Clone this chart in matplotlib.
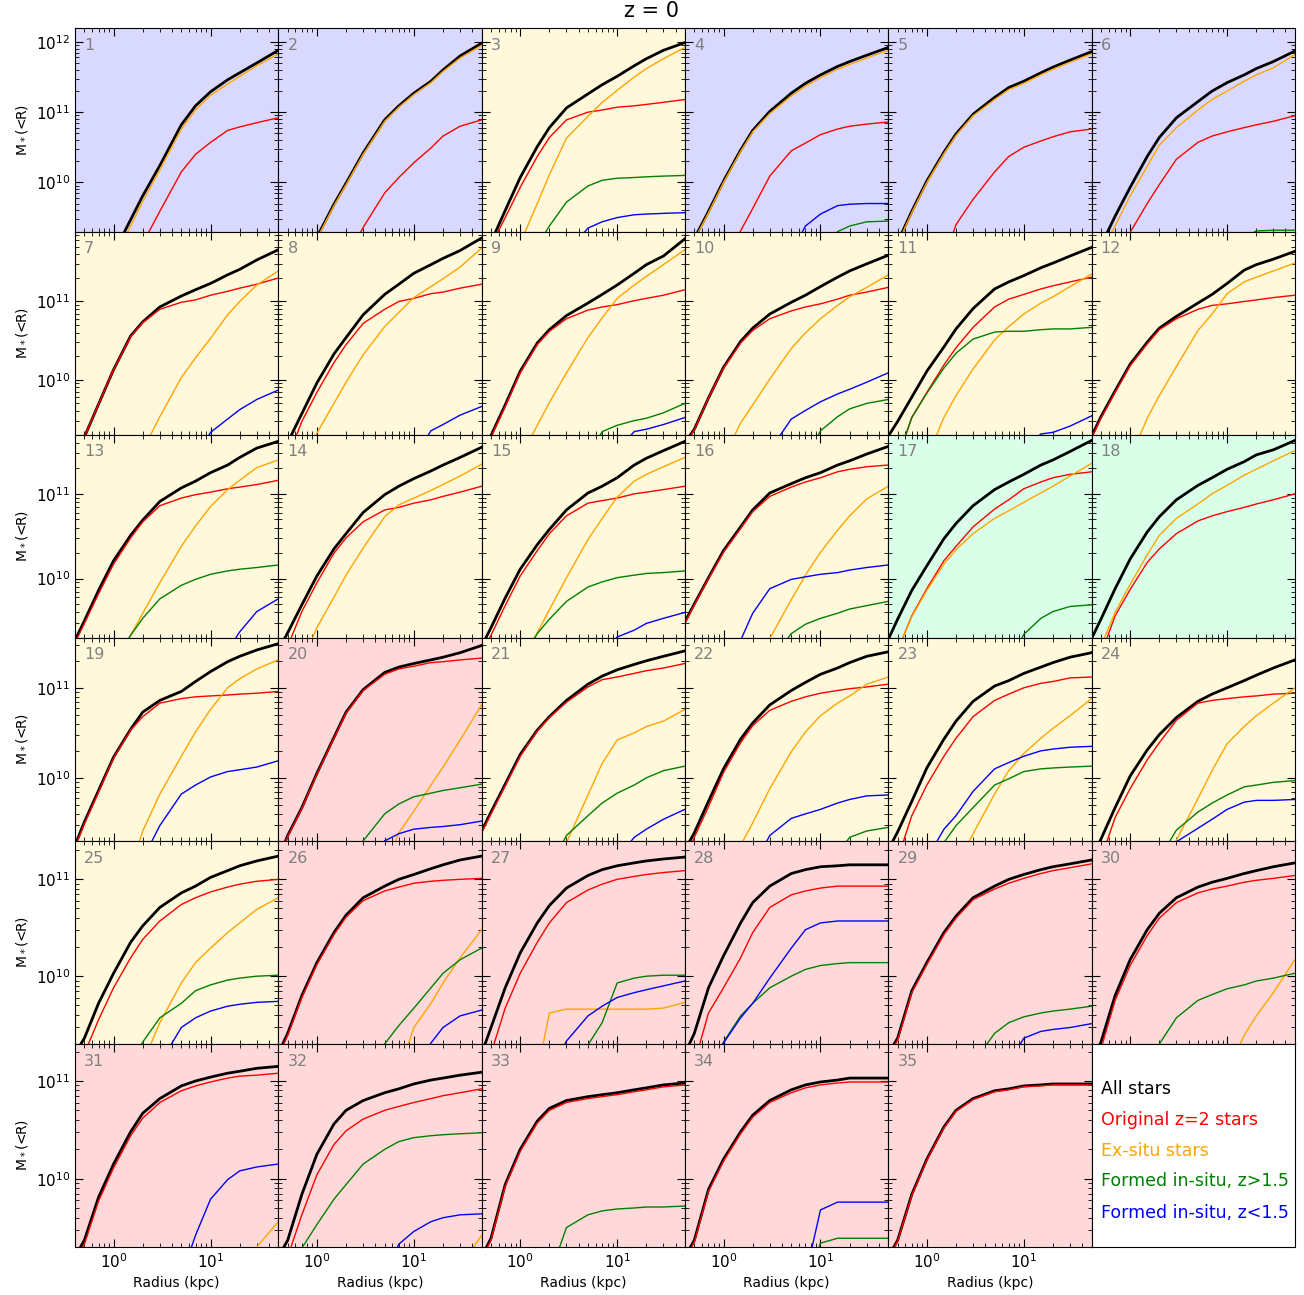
import numpy as np
import matplotlib.pyplot as plt

# cumulative stellar mass profiles, 35 galaxies at z = 0
# values are log10 M*(<R) on the RADIUS grid, None = off the bottom of the plot
N = None
RADIUS = [0.4, 0.5, 0.7, 1, 1.5, 2, 3, 5, 7, 10, 15, 20, 30, 50]

ALL_STARS = [
    [N, N, N, 8.99, 9.47, 9.81, 10.24, 10.82, 11.09, 11.29, 11.46, 11.56, 11.70, 11.88],
    [N, N, N, 9.22, 9.69, 9.99, 10.42, 10.89, 11.09, 11.27, 11.44, 11.60, 11.80, 11.98],
    [N, 9.15, 9.60, 10.07, 10.51, 10.78, 11.06, 11.26, 11.39, 11.51, 11.66, 11.76, 11.88, 11.99],
    [N, 9.20, 9.59, 10.02, 10.46, 10.74, 11.01, 11.27, 11.41, 11.53, 11.65, 11.72, 11.81, 11.92],
    [N, 9.15, 9.59, 10.02, 10.43, 10.69, 10.97, 11.21, 11.35, 11.44, 11.56, 11.64, 11.74, 11.86],
    [N, 9.10, 9.52, 9.93, 10.37, 10.64, 10.92, 11.15, 11.30, 11.42, 11.53, 11.62, 11.72, 11.87],
    [N, 9.27, 9.69, 10.13, 10.56, 10.74, 10.93, 11.07, 11.15, 11.23, 11.34, 11.41, 11.53, 11.66],
    [N, 9.20, 9.57, 9.96, 10.33, 10.54, 10.83, 11.09, 11.22, 11.36, 11.47, 11.55, 11.65, 11.81],
    [N, 9.29, 9.68, 10.11, 10.47, 10.64, 10.82, 10.98, 11.09, 11.21, 11.36, 11.47, 11.58, 11.80],
    [9.20, 9.37, 9.77, 10.16, 10.49, 10.66, 10.84, 10.99, 11.08, 11.19, 11.31, 11.39, 11.48, 11.59],
    [9.28, 9.47, 9.78, 10.11, 10.42, 10.65, 10.91, 11.16, 11.25, 11.33, 11.43, 11.49, 11.58, 11.69],
    [9.28, 9.53, 9.86, 10.20, 10.48, 10.66, 10.81, 10.98, 11.09, 11.23, 11.40, 11.47, 11.54, 11.64],
    [9.27, 9.50, 9.86, 10.21, 10.51, 10.69, 10.91, 11.07, 11.15, 11.25, 11.34, 11.43, 11.54, 11.62],
    [9.15, 9.36, 9.69, 10.03, 10.35, 10.53, 10.78, 10.99, 11.09, 11.18, 11.27, 11.34, 11.43, 11.55],
    [9.20, 9.42, 9.77, 10.11, 10.40, 10.58, 10.81, 11.01, 11.09, 11.19, 11.34, 11.42, 11.51, 11.62],
    [9.49, 9.70, 10.01, 10.33, 10.61, 10.81, 11.01, 11.12, 11.19, 11.25, 11.34, 11.39, 11.47, 11.56],
    [9.28, 9.52, 9.86, 10.15, 10.47, 10.65, 10.86, 11.05, 11.14, 11.23, 11.34, 11.40, 11.50, 11.63],
    [9.29, 9.52, 9.88, 10.23, 10.55, 10.73, 10.93, 11.10, 11.19, 11.29, 11.38, 11.46, 11.52, 11.63],
    [9.25, 9.51, 9.86, 10.23, 10.54, 10.73, 10.86, 10.96, 11.07, 11.18, 11.29, 11.35, 11.42, 11.49],
    [9.10, 9.36, 9.67, 10.05, 10.45, 10.73, 10.98, 11.17, 11.23, 11.27, 11.31, 11.34, 11.39, 11.47],
    [9.41, 9.62, 9.93, 10.26, 10.53, 10.68, 10.86, 11.04, 11.13, 11.20, 11.26, 11.30, 11.35, 11.41],
    [9.20, 9.39, 9.74, 10.10, 10.43, 10.61, 10.81, 10.97, 11.06, 11.15, 11.22, 11.28, 11.35, 11.40],
    [9.20, 9.40, 9.74, 10.11, 10.43, 10.63, 10.85, 11.02, 11.08, 11.16, 11.23, 11.28, 11.34, 11.39],
    [9.10, 9.32, 9.67, 10.02, 10.31, 10.48, 10.67, 10.85, 10.93, 11.00, 11.08, 11.14, 11.22, 11.31],
    [9.20, 9.36, 9.72, 10.03, 10.35, 10.52, 10.71, 10.86, 10.93, 11.02, 11.09, 11.14, 11.19, 11.24],
    [9.20, 9.41, 9.80, 10.14, 10.45, 10.63, 10.81, 10.93, 11.00, 11.05, 11.11, 11.15, 11.20, 11.24],
    [9.20, 9.47, 9.88, 10.24, 10.55, 10.73, 10.91, 11.04, 11.10, 11.14, 11.17, 11.19, 11.21, 11.23],
    [9.20, 9.41, 9.88, 10.21, 10.55, 10.76, 10.93, 11.06, 11.10, 11.13, 11.14, 11.15, 11.15, 11.15],
    [9.20, 9.36, 9.85, 10.14, 10.45, 10.62, 10.81, 10.93, 11.00, 11.05, 11.10, 11.13, 11.16, 11.20],
    [9.10, 9.32, 9.80, 10.17, 10.48, 10.65, 10.81, 10.92, 10.97, 11.01, 11.06, 11.09, 11.13, 11.17],
    [9.20, 9.37, 9.81, 10.15, 10.48, 10.67, 10.82, 10.95, 11.00, 11.04, 11.08, 11.10, 11.13, 11.15],
    [9.20, 9.37, 9.84, 10.25, 10.56, 10.70, 10.80, 10.88, 10.92, 10.97, 11.01, 11.03, 11.06, 11.09],
    [9.20, 9.39, 9.94, 10.30, 10.59, 10.72, 10.80, 10.84, 10.86, 10.88, 10.91, 10.93, 10.96, 10.98],
    [9.20, 9.37, 9.89, 10.20, 10.48, 10.65, 10.80, 10.91, 10.96, 10.99, 11.01, 11.03, 11.03, 11.03],
    [9.20, 9.37, 9.84, 10.20, 10.53, 10.70, 10.82, 10.90, 10.92, 10.95, 10.96, 10.97, 10.97, 10.97],
]

ORIGINAL = [
    [N, N, N, N, N, 9.13, 9.59, 10.15, 10.40, 10.57, 10.74, 10.79, 10.85, 10.92],
    [N, N, N, N, N, 8.90, 9.36, 9.85, 10.07, 10.28, 10.49, 10.66, 10.80, 10.89],
    [N, 9.10, 9.50, 9.93, 10.37, 10.64, 10.89, 11.00, 11.03, 11.07, 11.09, 11.11, 11.14, 11.18],
    [N, N, N, 8.80, 9.31, 9.63, 10.09, 10.45, 10.56, 10.68, 10.76, 10.80, 10.83, 10.86],
    [N, N, N, N, 8.90, 9.40, 9.76, 10.15, 10.37, 10.50, 10.59, 10.65, 10.72, 10.76],
    [N, N, 8.90, 9.29, 9.70, 9.97, 10.33, 10.57, 10.66, 10.72, 10.78, 10.82, 10.87, 10.95],
    [N, 9.27, 9.69, 10.13, 10.55, 10.73, 10.90, 10.99, 11.02, 11.08, 11.13, 11.17, 11.22, 11.30],
    [N, 9.00, 9.47, 9.84, 10.22, 10.45, 10.72, 10.90, 11.00, 11.04, 11.10, 11.12, 11.17, 11.22],
    [N, 9.27, 9.66, 10.09, 10.45, 10.62, 10.78, 10.89, 10.93, 10.96, 11.01, 11.04, 11.08, 11.15],
    [9.18, 9.36, 9.77, 10.15, 10.47, 10.63, 10.78, 10.88, 10.93, 10.97, 11.03, 11.08, 11.12, 11.18],
    [N, 9.00, 9.52, 9.84, 10.19, 10.41, 10.67, 10.93, 11.03, 11.09, 11.16, 11.20, 11.25, 11.31],
    [9.26, 9.51, 9.84, 10.18, 10.46, 10.64, 10.78, 10.90, 10.95, 10.97, 11.00, 11.02, 11.05, 11.08],
    [9.24, 9.47, 9.82, 10.17, 10.48, 10.67, 10.86, 10.95, 10.99, 11.02, 11.06, 11.08, 11.11, 11.16],
    [N, 9.20, 9.61, 9.95, 10.30, 10.48, 10.67, 10.81, 10.84, 10.89, 10.93, 10.97, 11.02, 11.09],
    [9.10, 9.33, 9.68, 10.03, 10.33, 10.53, 10.74, 10.89, 10.92, 10.95, 11.00, 11.02, 11.05, 11.09],
    [9.47, 9.69, 10.00, 10.31, 10.59, 10.79, 10.97, 11.08, 11.14, 11.19, 11.26, 11.29, 11.32, 11.34],
    [N, 9.15, 9.56, 9.88, 10.21, 10.38, 10.61, 10.82, 10.93, 11.06, 11.14, 11.19, 11.23, 11.26],
    [N, 9.10, 9.56, 9.87, 10.19, 10.35, 10.53, 10.68, 10.74, 10.79, 10.84, 10.88, 10.93, 11.00],
    [9.23, 9.49, 9.84, 10.22, 10.53, 10.68, 10.83, 10.88, 10.90, 10.91, 10.92, 10.93, 10.94, 10.96],
    [9.09, 9.35, 9.66, 10.04, 10.44, 10.72, 10.97, 11.15, 11.21, 11.24, 11.28, 11.29, 11.31, 11.33],
    [9.39, 9.60, 9.91, 10.24, 10.52, 10.67, 10.84, 11.01, 11.09, 11.12, 11.16, 11.19, 11.22, 11.27],
    [9.10, 9.34, 9.68, 10.06, 10.39, 10.58, 10.75, 10.85, 10.90, 10.94, 10.97, 10.99, 11.01, 11.04],
    [N, 9.10, 9.58, 9.92, 10.24, 10.44, 10.68, 10.86, 10.93, 11.00, 11.05, 11.07, 11.11, 11.12],
    [N, 9.10, 9.56, 9.88, 10.20, 10.39, 10.64, 10.83, 10.86, 10.88, 10.90, 10.91, 10.93, 10.94],
    [N, 9.20, 9.55, 9.88, 10.19, 10.38, 10.57, 10.74, 10.81, 10.87, 10.92, 10.95, 10.98, 11.00],
    [9.18, 9.39, 9.78, 10.12, 10.43, 10.61, 10.78, 10.88, 10.92, 10.96, 10.98, 10.99, 11.00, 11.01],
    [N, 9.20, 9.67, 10.03, 10.35, 10.55, 10.76, 10.89, 10.95, 11.00, 11.03, 11.05, 11.07, 11.09],
    [N, 9.10, 9.62, 9.88, 10.19, 10.45, 10.71, 10.84, 10.88, 10.91, 10.93, 10.93, 10.93, 10.93],
    [9.18, 9.34, 9.83, 10.12, 10.43, 10.60, 10.79, 10.90, 10.96, 11.01, 11.06, 11.09, 11.12, 11.16],
    [N, 9.25, 9.75, 10.11, 10.42, 10.60, 10.76, 10.86, 10.90, 10.93, 10.97, 10.99, 11.01, 11.04],
    [9.15, 9.33, 9.77, 10.11, 10.44, 10.62, 10.78, 10.90, 10.95, 10.99, 11.03, 11.05, 11.06, 11.08],
    [N, 9.20, 9.63, 10.04, 10.35, 10.49, 10.61, 10.70, 10.74, 10.78, 10.82, 10.85, 10.88, 10.92],
    [9.18, 9.37, 9.92, 10.28, 10.57, 10.70, 10.78, 10.82, 10.84, 10.86, 10.89, 10.91, 10.94, 10.96],
    [9.18, 9.35, 9.87, 10.18, 10.46, 10.63, 10.78, 10.88, 10.93, 10.96, 10.98, 10.99, 10.99, 10.99],
    [9.19, 9.36, 9.83, 10.19, 10.52, 10.69, 10.81, 10.89, 10.91, 10.94, 10.95, 10.96, 10.96, 10.96],
]

EX_SITU = [
    [N, N, N, 8.90, 9.38, 9.73, 10.18, 10.76, 11.03, 11.24, 11.40, 11.51, 11.66, 11.83],
    [N, N, N, 9.20, 9.67, 9.97, 10.40, 10.87, 11.07, 11.25, 11.42, 11.58, 11.77, 11.95],
    [N, N, N, 9.13, 9.70, 10.11, 10.63, 10.94, 11.14, 11.31, 11.50, 11.62, 11.76, 11.92],
    [N, 9.18, 9.57, 10.00, 10.44, 10.72, 10.98, 11.23, 11.37, 11.49, 11.61, 11.68, 11.77, 11.88],
    [N, 9.13, 9.57, 10.00, 10.41, 10.67, 10.95, 11.18, 11.32, 11.41, 11.53, 11.61, 11.71, 11.83],
    [N, 9.00, 9.38, 9.81, 10.23, 10.53, 10.78, 11.03, 11.18, 11.30, 11.44, 11.53, 11.63, 11.82],
    [N, N, N, N, N, 9.10, 9.53, 10.03, 10.28, 10.53, 10.83, 11.00, 11.21, 11.39],
    [N, N, 8.90, 9.32, 9.70, 9.97, 10.32, 10.68, 10.86, 11.05, 11.19, 11.29, 11.44, 11.68],
    [N, N, N, 9.00, 9.42, 9.71, 10.09, 10.54, 10.79, 11.04, 11.21, 11.32, 11.47, 11.66],
    [N, N, N, 9.00, 9.45, 9.68, 10.01, 10.40, 10.60, 10.78, 10.95, 11.06, 11.18, 11.34],
    [N, N, N, 9.00, 9.52, 9.80, 10.14, 10.51, 10.68, 10.84, 10.98, 11.06, 11.19, 11.35],
    [N, N, N, 9.00, 9.51, 9.80, 10.17, 10.63, 10.84, 11.10, 11.25, 11.31, 11.39, 11.49],
    [N, N, N, 9.00, 9.33, 9.59, 9.95, 10.38, 10.62, 10.85, 11.05, 11.16, 11.31, 11.40],
    [N, N, 9.00, 9.42, 9.78, 10.04, 10.36, 10.73, 10.87, 10.95, 11.04, 11.11, 11.21, 11.35],
    [N, N, N, 9.00, 9.36, 9.63, 10.01, 10.46, 10.71, 10.96, 11.15, 11.23, 11.32, 11.43],
    [N, N, N, N, N, 8.90, 9.29, 9.75, 10.04, 10.31, 10.57, 10.74, 10.94, 11.09],
    [N, 9.15, 9.55, 9.86, 10.17, 10.34, 10.53, 10.71, 10.80, 10.90, 11.01, 11.09, 11.21, 11.36],
    [N, 9.20, 9.60, 9.93, 10.28, 10.51, 10.71, 10.88, 11.00, 11.10, 11.22, 11.29, 11.39, 11.51],
    [N, N, N, N, 9.00, 9.41, 9.82, 10.24, 10.51, 10.76, 11.00, 11.10, 11.21, 11.31],
    [N, N, N, N, N, N, N, 9.00, 9.39, 9.63, 9.92, 10.12, 10.42, 10.81],
    [N, N, N, N, N, 8.90, 9.28, 9.81, 10.16, 10.42, 10.50, 10.57, 10.63, 10.76],
    [N, N, N, N, 9.25, 9.50, 9.88, 10.29, 10.51, 10.69, 10.83, 10.91, 11.04, 11.12],
    [N, N, N, N, N, 9.00, 9.38, 9.82, 10.08, 10.27, 10.44, 10.55, 10.69, 10.88],
    [N, N, N, N, N, 8.90, 9.31, 9.77, 10.08, 10.38, 10.57, 10.69, 10.83, 11.00],
    [N, N, N, N, N, 9.10, 9.52, 9.93, 10.14, 10.29, 10.45, 10.55, 10.69, 10.81],
    [N, N, N, N, N, N, N, N, 9.00, 9.47, 9.72, 9.93, 10.19, 10.48],
    [N, N, N, N, 9.00, 9.62, 9.66, 9.66, 9.66, 9.66, 9.66, 9.66, 9.67, 9.73],
    None,
    None,
    [N, N, N, N, N, N, N, N, N, 9.00, 9.39, 9.59, 9.83, 10.17],
    [N, N, N, N, N, N, N, N, N, N, N, 9.00, 9.30, 9.56],
    [N, N, N, N, N, N, N, N, N, N, N, N, 9.10, 9.42],
    None,
    None,
    None,
]

INSITU_EARLY = [
    None,
    None,
    [N, N, N, N, 9.10, 9.38, 9.72, 9.95, 10.03, 10.06, 10.07, 10.08, 10.09, 10.10],
    [N, N, N, N, N, N, N, N, N, 8.90, 9.30, 9.38, 9.44, 9.45],
    None,
    [N, N, N, N, N, N, N, N, N, N, 9.20, 9.31, 9.32, 9.32],
    None,
    None,
    [N, N, N, N, N, N, N, 9.00, 9.34, 9.42, 9.48, 9.51, 9.58, 9.70],
    [N, N, N, N, N, N, N, N, 9.00, 9.35, 9.53, 9.63, 9.70, 9.75],
    [N, 9.00, 9.52, 9.83, 10.15, 10.34, 10.52, 10.61, 10.62, 10.62, 10.64, 10.65, 10.65, 10.67],
    None,
    [N, N, N, 9.00, 9.33, 9.53, 9.76, 9.92, 9.99, 10.05, 10.09, 10.11, 10.13, 10.16],
    None,
    [N, N, N, 9.00, 9.35, 9.52, 9.73, 9.90, 9.96, 10.01, 10.04, 10.06, 10.07, 10.09],
    [N, N, N, N, N, N, 9.00, 9.35, 9.46, 9.53, 9.59, 9.64, 9.68, 9.73],
    [N, N, N, N, N, N, N, N, 9.00, 9.34, 9.53, 9.61, 9.67, 9.69],
    None,
    None,
    [N, N, N, N, N, 8.90, 9.30, 9.60, 9.71, 9.79, 9.83, 9.86, 9.89, 9.93],
    [N, N, N, N, N, 9.00, 9.36, 9.58, 9.72, 9.83, 9.92, 10.00, 10.08, 10.13],
    [N, N, N, N, N, N, N, N, N, N, 9.15, 9.34, 9.41, 9.45],
    [N, N, N, N, 9.28, 9.47, 9.67, 9.92, 9.99, 10.07, 10.10, 10.11, 10.12, 10.13],
    [N, N, N, N, N, 9.10, 9.42, 9.62, 9.72, 9.81, 9.90, 9.92, 9.95, 9.97],
    [N, N, N, N, 9.10, 9.32, 9.57, 9.72, 9.85, 9.91, 9.96, 9.98, 10.00, 10.01],
    [N, N, N, N, N, N, 9.00, 9.30, 9.49, 9.67, 9.88, 10.03, 10.17, 10.29],
    [N, N, N, N, N, N, 8.90, 9.29, 9.52, 9.93, 9.98, 10.00, 10.01, 10.01],
    [N, N, 9.00, 9.32, 9.59, 9.72, 9.88, 10.00, 10.07, 10.11, 10.13, 10.14, 10.14, 10.14],
    [N, N, N, N, N, N, 9.10, 9.41, 9.52, 9.58, 9.62, 9.64, 9.66, 9.69],
    [N, N, N, N, 9.10, 9.30, 9.57, 9.75, 9.81, 9.87, 9.91, 9.95, 9.98, 10.03],
    None,
    [N, 9.00, 9.29, 9.53, 9.79, 9.94, 10.15, 10.30, 10.38, 10.42, 10.44, 10.45, 10.46, 10.47],
    [N, N, N, N, N, 9.00, 9.50, 9.63, 9.67, 9.69, 9.70, 9.71, 9.71, 9.72],
    [N, N, N, N, N, N, N, N, 8.90, 9.34, 9.39, 9.39, 9.39, 9.39],
    None,
]

INSITU_LATE = [
    None,
    None,
    [N, N, N, N, N, N, 9.00, 9.35, 9.44, 9.50, 9.54, 9.55, 9.56, 9.57],
    [N, N, N, N, N, N, N, 9.00, 9.38, 9.55, 9.67, 9.69, 9.70, 9.70],
    None,
    None,
    [N, N, N, N, N, N, N, N, 9.00, 9.33, 9.50, 9.62, 9.75, 9.87],
    [N, N, N, N, N, N, N, N, N, 9.00, 9.35, 9.43, 9.55, 9.66],
    [N, N, N, N, N, N, N, N, N, 9.10, 9.34, 9.37, 9.43, 9.52],
    [N, N, N, N, N, N, 9.10, 9.50, 9.61, 9.72, 9.82, 9.88, 9.97, 10.09],
    [N, N, N, N, N, N, N, N, N, 9.10, 9.31, 9.33, 9.41, 9.54],
    None,
    [N, N, N, N, N, N, N, N, N, N, 9.15, 9.37, 9.61, 9.76],
    None,
    [N, N, N, N, N, N, N, N, 9.10, 9.31, 9.39, 9.47, 9.53, 9.60],
    [N, N, N, 8.90, 9.27, 9.59, 9.88, 9.99, 10.02, 10.05, 10.07, 10.10, 10.13, 10.16],
    None,
    None,
    [N, N, N, N, N, 9.10, 9.47, 9.82, 9.92, 10.01, 10.07, 10.09, 10.12, 10.19],
    [N, N, N, N, N, N, 9.00, 9.30, 9.38, 9.43, 9.45, 9.46, 9.48, 9.52],
    [N, N, N, N, N, N, N, N, N, 9.10, 9.34, 9.43, 9.54, 9.65],
    [N, N, N, N, N, 9.00, 9.36, 9.55, 9.60, 9.65, 9.72, 9.76, 9.80, 9.81],
    [N, N, N, 9.10, 9.43, 9.58, 9.85, 10.10, 10.17, 10.24, 10.30, 10.32, 10.34, 10.35],
    [N, N, N, N, N, 9.00, 9.29, 9.44, 9.54, 9.65, 9.73, 9.75, 9.75, 9.76],
    [N, N, N, N, N, N, 9.10, 9.47, 9.57, 9.64, 9.69, 9.71, 9.73, 9.74],
    [N, N, N, N, N, N, N, N, N, 9.00, 9.31, 9.47, 9.59, 9.65],
    [N, N, N, N, N, 9.00, 9.33, 9.59, 9.69, 9.78, 9.83, 9.86, 9.90, 9.95],
    [N, N, 9.00, 9.31, 9.57, 9.72, 9.98, 10.29, 10.48, 10.55, 10.57, 10.57, 10.57, 10.57],
    [N, N, N, N, N, N, N, N, 9.10, 9.36, 9.43, 9.45, 9.47, 9.51],
    None,
    [N, N, N, N, N, N, N, 9.00, 9.42, 9.79, 9.99, 10.08, 10.12, 10.15],
    [N, N, N, N, N, N, N, 9.00, 9.33, 9.46, 9.56, 9.60, 9.63, 9.64],
    None,
    [N, N, N, N, N, N, N, N, 9.00, 9.68, 9.76, 9.76, 9.76, 9.76],
    None,
]

# background class of each panel: B blue, Y yellow, G green, R red
PANEL_CLASS = list("BBYBBB" "YYYYYY" "YYYYGG" "YRYYYY" "YRRRRR" "RRRRR")
BG_COLORS = {"B": "#d9d9ff", "Y": "#fff8da", "G": "#d9ffe9", "R": "#ffd9d9"}

ROW_TOP = [1.55e12, 7.8e11, 5.0e11, 3.6e11, 2.5e11, 2.4e11]
Y_BOTTOM = 2e9

SERIES = [
    (ALL_STARS, "black", 2.0, "All stars"),
    (ORIGINAL, "red", 1.0, "Original z=2 stars"),
    (EX_SITU, "orange", 1.0, "Ex-situ stars"),
    (INSITU_EARLY, "green", 1.0, "Formed in-situ, z>1.5"),
    (INSITU_LATE, "blue", 1.0, "Formed in-situ, z<1.5"),
]

fig, axes = plt.subplots(6, 6, figsize=(13.04, 12.95), dpi=100)
fig.subplots_adjust(left=0.0575, right=0.993, top=0.978, bottom=0.0371,
                    wspace=0, hspace=0)

for i in range(35):
    row, col = i // 6, i % 6
    ax = axes[row][col]
    ax.set_facecolor(BG_COLORS[PANEL_CLASS[i]])
    for data, color, lw, label in SERIES:
        if data[i] is None:
            continue
        logm = np.array(data[i], dtype=float)
        ax.plot(RADIUS, 10 ** logm, color=color, lw=lw)
    ax.set_xscale("log")
    ax.set_yscale("log")
    ax.set_xlim(0.4, 50)
    ax.set_ylim(Y_BOTTOM, ROW_TOP[row])
    ax.tick_params(which="both", direction="in", top=True, right=True,
                   labelsize=11)
    ax.tick_params(which="major", length=6)
    ax.tick_params(which="minor", length=3)
    ax.tick_params(labelleft=(col == 0), labelbottom=(row == 5))
    ax.text(0.045, 0.915, str(i + 1), transform=ax.transAxes,
            color="gray", fontsize=11.5, va="center")
    if col == 0:
        ax.set_ylabel(r"M$_*$(<R)", fontsize=10)
    if row == 5:
        ax.set_xlabel("Radius (kpc)", fontsize=10)

# last panel holds the legend
lax = axes[5][5]
lax.set_xticks([])
lax.set_yticks([])
lax.set_facecolor("white")
ypos = [0.776, 0.627, 0.473, 0.323, 0.169]
for (data, color, lw, label), y in zip(SERIES, ypos):
    lax.text(0.045, y, label, color=color, fontsize=12.5,
             transform=lax.transAxes, va="center")

fig.text(0.5, 1 - 11 / 1295, "z = 0", ha="center", va="center", fontsize=15)
fig.savefig("out.png", dpi=100)
